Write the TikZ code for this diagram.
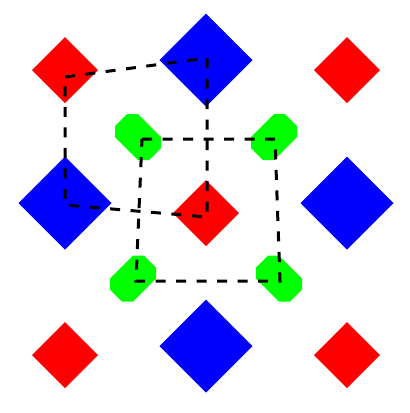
\documentclass[tikz,border=0pt]{standalone}
\begin{document}
\begin{tikzpicture}[x=1pt,y=-1pt,
  reddia/.style={fill={rgb,255:red,255;green,0;blue,0}},
  bluedia/.style={fill={rgb,255:red,0;green,0;blue,255}},
  greenoct/.style={fill={rgb,255:red,0;green,255;blue,0}},
  dashline/.style={draw=black,line width=3pt,dash pattern=on 10pt off 10.5pt}]
\useasboundingbox (0,0) rectangle (410,413);
% red diamonds
\foreach \cx/\cy in {65/70,347/70,206/213,65/355,347/355}
  \fill[reddia] (\cx-33,\cy) -- (\cx,\cy-33) -- (\cx+33,\cy) -- (\cx,\cy+33) -- cycle;
% blue diamonds
\foreach \cx/\cy in {206/60,65/203,347/203,206/346}
  \fill[bluedia] (\cx-46.5,\cy) -- (\cx,\cy-46.5) -- (\cx+46.5,\cy) -- (\cx,\cy+46.5) -- cycle;
% green octagons, s=1 NW-SE, s=-1 NE-SW
\foreach \cx/\cy/\s in {138/137/1,274/137/-1,133/278.7/-1,279/278.7/1}
  \fill[greenoct] (\cx-\s*11,\cy-23) -- (\cx,\cy-23) -- (\cx+\s*23,\cy) -- (\cx+\s*23,\cy+11)
    -- (\cx+\s*11,\cy+23) -- (\cx,\cy+23) -- (\cx-\s*23,\cy) -- (\cx-\s*23,\cy-11) -- cycle;
% dashed quadrilaterals
\coordinate (a1) at (65,77);
\coordinate (a2) at (207,58);
\coordinate (a3) at (207,217);
\coordinate (a4) at (65,205);
\coordinate (b1) at (142,139);
\coordinate (b2) at (275,139);
\coordinate (b3) at (280,281);
\coordinate (b4) at (136,281);
\draw[dashline] (a1) -- (a2) -- (a3) -- (a4) -- cycle;
\draw[dashline] (b1) -- (b2) -- (b3) -- (b4) -- cycle;
\end{tikzpicture}
\end{document}
